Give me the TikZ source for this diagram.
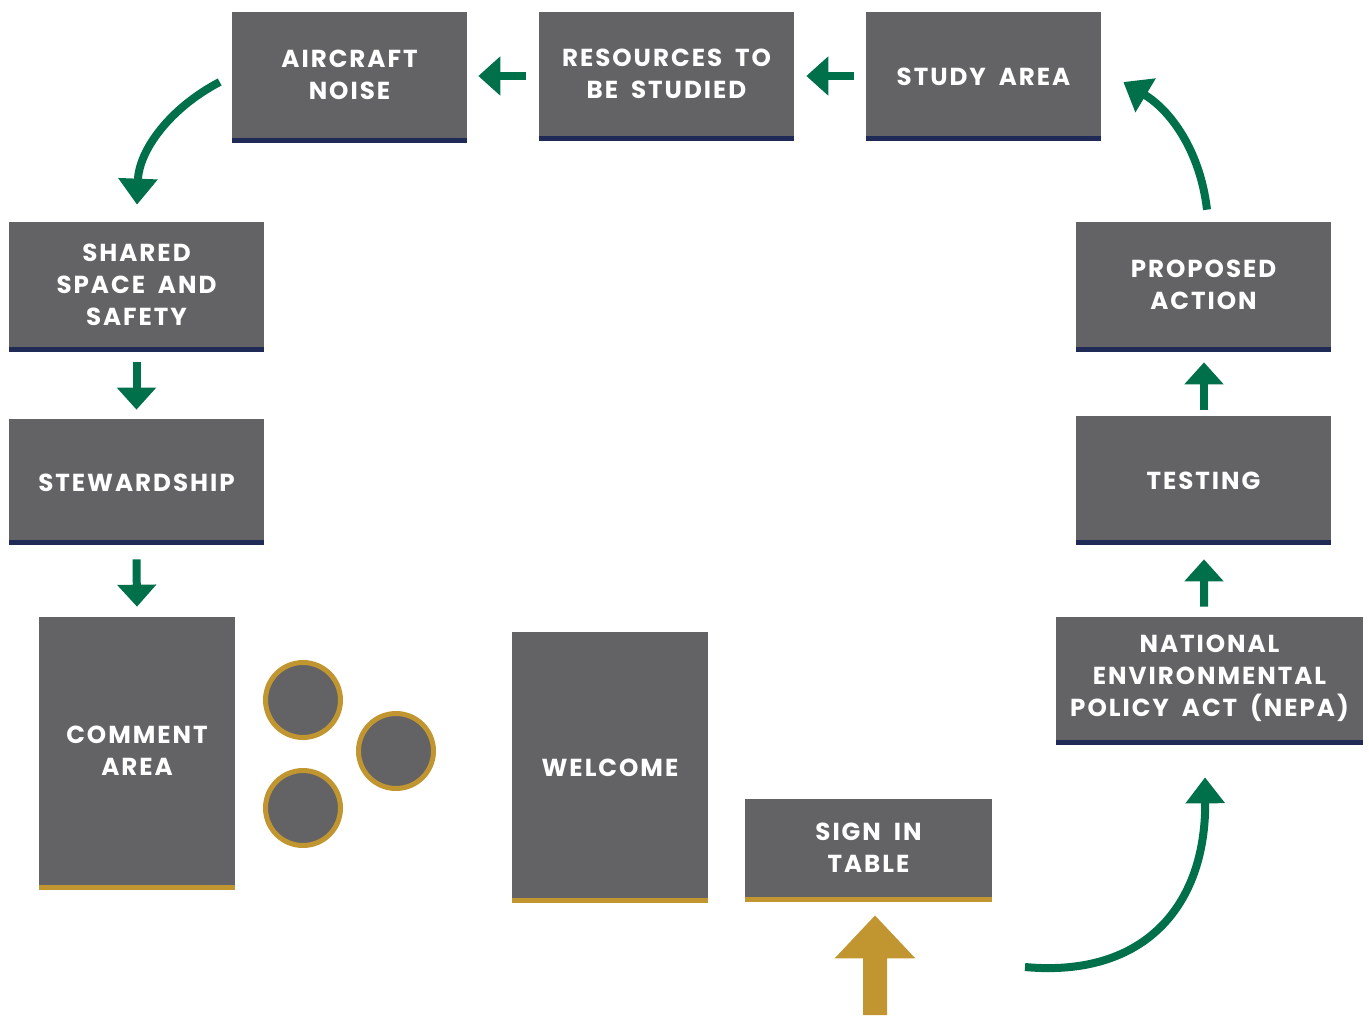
\documentclass[tikz,border=0pt]{standalone}
\usepackage{fontspec}
\newfontfamily\boxfont{Poppins}[LetterSpace=8, WordSpace=1.8]
\usetikzlibrary{arrows.meta, calc, positioning}
\definecolor{boxgray}{HTML}{636365}
\definecolor{barnavy}{HTML}{1F2A56}
\definecolor{tablegold}{HTML}{C1952F}
\definecolor{flowgreen}{HTML}{00704A}

\begin{document}
\begin{tikzpicture}[x=0.02cm, y=-0.02cm,
    station/.style={fill=boxgray, text=white, align=center, inner sep=0pt,
      font=\boxfont\bfseries\fontsize{14}{18.2}\selectfont},
    oneline/.style={station, execute at begin node={\rule{0pt}{13.4pt}}},
    lines/.style={station, execute at begin node={\rule{0pt}{16.5pt}}},
    seat/.style={circle, fill=boxgray, draw=tablegold, line width=0.1cm, minimum size=1.5cm},
    flow/.style={draw=flowgreen, line width=0.16cm, -{Triangle[length=0.44cm, width=0.76cm]}},
    curveflow/.style={draw=flowgreen, line width=0.16cm, -{Triangle[length=0.52cm, width=0.76cm]}},
    entry/.style={draw=tablegold, line width=0.48cm, -{Triangle[length=0.86cm, width=1.56cm]}}]
  \useasboundingbox (0,0) rectangle (1369,1015);

  % top row
  \node[lines, minimum width=4.7cm, minimum height=2.52cm] (air) at (349.5,75) {AIRCRAFT\\NOISE};
  \node[lines, minimum width=5.1cm, minimum height=2.48cm] (res) at (666.5,74) {RESOURCES TO\\BE STUDIED};
  \node[oneline, minimum width=4.7cm, minimum height=2.48cm] (study) at (983.5,74) {STUDY AREA};

  % left column
  \node[lines, minimum width=5.1cm, minimum height=2.5cm] (shared) at (136.5,284.5) {SHARED\\SPACE AND\\SAFETY};
  \node[oneline, minimum width=5.1cm, minimum height=2.42cm] (stew) at (136.5,479.5) {STEWARDSHIP};
  \node[lines, minimum width=3.92cm, minimum height=5.36cm] (comment) at (137,751) {COMMENT\\AREA};

  % tables
  \node[seat] (seat1) at (303,700) {};
  \node[seat] (seat2) at (396,751) {};
  \node[seat] (seat3) at (303,808) {};

  % bottom
  \node[oneline, minimum width=3.92cm, minimum height=5.32cm] (welcome) at (610,765) {WELCOME};
  \node[lines, minimum width=4.94cm, minimum height=1.96cm] (sign) at (868.5,848) {SIGN IN\\TABLE};

  % right column
  \node[lines, minimum width=5.1cm, minimum height=2.5cm] (prop) at (1203.5,284.5) {PROPOSED\\ACTION};
  \node[oneline, minimum width=5.1cm, minimum height=2.48cm] (test) at (1203.5,478) {TESTING};
  \node[lines, minimum width=6.14cm, minimum height=2.46cm] (nepa) at (1209.5,678.5) {NATIONAL\\ENVIRONMENTAL\\POLICY ACT (NEPA)};

  \foreach \n in {air,res,study,shared,stew,prop,test,nepa}
    \fill[barnavy] (\n.south west) rectangle ([yshift=-0.1cm]\n.south east);
  \foreach \n in {comment,welcome,sign}
    \fill[tablegold] (\n.south west) rectangle ([yshift=-0.1cm]\n.south east);

  % arrows
  \draw[flow] ($(res.west)+(-13,2)$) -- ($(air.east)+(11,1)$);
  \draw[flow] ($(study.west)+(-12,2)$) -- ($(res.east)+(12,2)$);
  \draw[flow] ($(shared.south)+(0,15)$) -- ($(stew.north)+(0,-9)$);
  \draw[flow] ($(stew.south)+(0,19)$) -- ($(comment.north)+(0,-10)$);
  \draw[flow] ($(test.north)+(0.5,-6)$) -- ($(prop.south)+(0.5,15)$);
  \draw[flow] ($(nepa.north)+(-5.5,-10)$) -- ($(test.south)+(0.5,19)$);

  \draw[curveflow] ($(air.west)+(-12,7)$) .. controls (170,108) and (139,150) .. ($(shared.north)+(0.5,-17)$);
  \draw[curveflow] ($(prop.north)+(3.5,-12)$) .. controls (1200,150) and (1170,110) .. ($(study.east)+(22,8)$);
  \coordinate (start) at (1025,967);
  \draw[curveflow] (start) .. controls (1145,978) and (1206,905) .. ($(nepa.south)+(-4.5,37)$);

  \coordinate (door) at (875,1015);
  \draw[entry] (door) -- ($(sign.south)+(6.5,18)$);
\end{tikzpicture}
\end{document}
